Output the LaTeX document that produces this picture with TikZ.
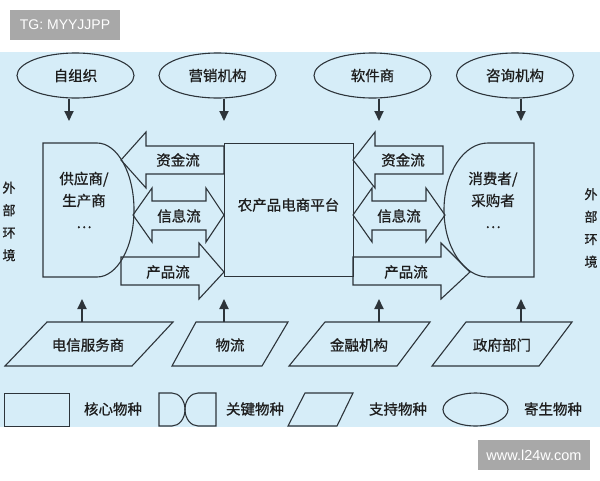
\documentclass[tikz,border=0pt]{standalone}
\usepackage{fontspec}
\setmainfont{Noto Sans CJK SC}[FakeBold=0.8]
\newfontfamily\latinsans{Liberation Sans}
\usetikzlibrary{shapes.geometric,arrows.meta}
\definecolor{bg}{RGB}{214,237,248}
\definecolor{ln}{RGB}{45,52,58}
\definecolor{wm}{RGB}{168,168,168}
\definecolor{tx}{RGB}{30,30,30}
\begin{document}
\begin{tikzpicture}[x=1pt,y=-1pt,
  shp/.style={draw=ln, line width=1.1pt, line join=miter},
  lbl/.style={font=\fontsize{14.5}{22}\selectfont, text=tx, inner sep=0pt},
  side/.style={font=\fontsize{13}{22.5}\selectfont, text=tx, inner sep=0pt, align=center},
  parasite/.style={shp, ellipse, minimum width=117pt, minimum height=45pt, inner sep=0pt, lbl},
  conn/.style={draw=ln, line width=2pt, -{Triangle[length=10pt,width=9pt]}},
  wmark/.style={fill=wm, text=white, inner sep=0pt, font=\latinsans\fontsize{14}{15}\selectfont}
]
\useasboundingbox (0,0) rectangle (600,480);
\fill[white] (0,0) rectangle (600,480);
\fill[bg] (0,52) rectangle (600,427);

% watermarks
\node[wmark, minimum width=110pt, minimum height=30pt] (wm1) at (65,25) {TG: MYYJJPP};
\node[wmark, minimum width=112pt, minimum height=30pt, font=\latinsans\fontsize{14.5}{15}\selectfont] (wm2) at (534,455) {www.l24w.com};

% parasitic species (ellipses)
\node[parasite] (e1) at (75.5,75.5) {自组织};
\node[parasite] (e2) at (217.5,75.5) {营销机构};
\node[parasite] (e3) at (372.5,75.5) {软件商};
\node[parasite] (e4) at (515,75.5) {咨询机构};

\coordinate (d1) at (69,121);
\coordinate (d2) at (224,121);
\coordinate (d3) at (379,121);
\coordinate (d4) at (521,121);
\draw[conn] (e1.south -| d1) -- (d1);
\draw[conn] (e2.south -| d2) -- (d2);
\draw[conn] (e3.south -| d3) -- (d3);
\draw[conn] (e4.south -| d4) -- (d4);

% supplier (key species)
\draw[shp] (97,143) -- (43,143) -- (43,277) -- (97,277)
  .. controls (117.4,277) and (134,247) .. (134,210)
  .. controls (134,173) and (117.4,143) .. (97,143) -- cycle;
\node[lbl, align=center] (sup) at (84,200) {供应商/\\生产商\\…};

% consumer (key species)
\draw[shp] (488,143) -- (534,143) -- (534,277) -- (488,277)
  .. controls (463.7,277) and (444,247) .. (444,210)
  .. controls (444,173) and (463.7,143) .. (488,143) -- cycle;
\node[lbl, align=center] (con) at (493,200) {消费者/\\采购者\\…};

% platform (core species)
\node[shp, line width=0.9pt, minimum width=129pt, minimum height=133pt, inner sep=0pt] (plat) at (288.5,209.5) {};
\node[lbl] (platt) at (288.5,205) {农产品电商平台};

% left flows
\draw[shp] (121,160) -- (146,132) -- (146,146) -- (224,146) -- (224,174) -- (146,174) -- (146,188) -- cycle;
\node[lbl] (lf1) at (178,160) {资金流};
\draw[shp] (133,215) -- (152,188) -- (152,201) -- (206,201) -- (206,188) -- (224,215) -- (206,242) -- (206,230) -- (152,230) -- (152,242) -- cycle;
\node[lbl] (lf2) at (179,216) {信息流};
\draw[shp] (121,257) -- (199,257) -- (199,243) -- (224,272) -- (199,299) -- (199,285) -- (121,285) -- cycle;
\node[lbl] (lf3) at (168,272) {产品流};

% right flows
\draw[shp] (353,160) -- (375,132) -- (375,146) -- (443,146) -- (443,174) -- (375,174) -- (375,188) -- cycle;
\node[lbl] (rf1) at (403,160) {资金流};
\draw[shp] (353,215) -- (372,188) -- (372,201) -- (426,201) -- (426,188) -- (445,215) -- (426,242) -- (426,230) -- (372,230) -- (372,242) -- cycle;
\node[lbl] (rf2) at (399,216) {信息流};
\draw[shp] (353,257) -- (441,257) -- (441,243) -- (470,272) -- (441,299) -- (441,285) -- (353,285) -- cycle;
\node[lbl] (rf3) at (406,272) {产品流};

% side labels
\node[side] (envl) at (9,221.5) {外\\部\\环\\境};
\node[side] (envr) at (591,228) {外\\部\\环\\境};

% supporting species (parallelograms)
\draw[shp] (47,322) -- (173,322) -- (132,366) -- (5,366) -- cycle;
\node[lbl] (p1) at (88,345) {电信服务商};
\draw[shp] (196,322) -- (288,322) -- (262,366) -- (172,366) -- cycle;
\node[lbl] (p2) at (230,345) {物流};
\draw[shp] (325,322) -- (430,322) -- (397,366) -- (289,366) -- cycle;
\node[lbl] (p3) at (359,345) {金融机构};
\draw[shp] (466,322) -- (572,322) -- (539,366) -- (432,366) -- cycle;
\node[lbl] (p4) at (502,345) {政府部门};

\coordinate (u1) at (82,322);
\coordinate (u2) at (224,322);
\coordinate (u3) at (379,322);
\coordinate (u4) at (521,322);
\coordinate (v1) at (82,299);
\coordinate (v2) at (224,299);
\coordinate (v3) at (379,299);
\coordinate (v4) at (521,299);
\draw[conn] (u1) -- (v1);
\draw[conn] (u2) -- (v2);
\draw[conn] (u3) -- (v3);
\draw[conn] (u4) -- (v4);

% legend
\node[shp, line width=0.9pt, minimum width=65pt, minimum height=33pt, inner sep=0pt] (lg1) at (36.5,409.5) {};
\node[lbl] (lt1) at (113,409) {核心物种};
\draw[shp] (172,393) -- (159,393) -- (159,426) -- (172,426)
  .. controls (179.2,426) and (185,418.6) .. (185,409.5)
  .. controls (185,400.4) and (179.2,393) .. (172,393);
\draw[shp] (198,393) -- (216,393) -- (216,426) -- (198,426)
  .. controls (190.8,426) and (185,418.6) .. (185,409.5)
  .. controls (185,400.4) and (190.8,393) .. (198,393);
\node[lbl] (lt2) at (255,409) {关键物种};
\draw[shp] (305,393) -- (353,393) -- (337,426) -- (288,426) -- cycle;
\node[lbl] (lt3) at (398,409) {支持物种};
\node[shp, ellipse, minimum width=65pt, minimum height=33pt, inner sep=0pt] (lg4) at (475.5,409.5) {};
\node[lbl] (lt4) at (553,409) {寄生物种};
\end{tikzpicture}
\end{document}
